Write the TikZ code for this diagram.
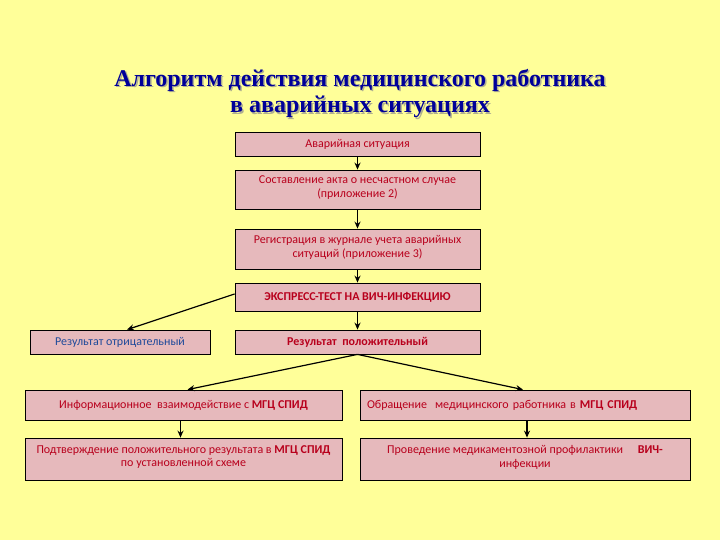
\documentclass[tikz,border=0pt]{standalone}
\usepackage{fontspec}
\setmainfont{Liberation Serif}
\newfontfamily\boxfont{Carlito}
\usetikzlibrary{arrows.meta}
\definecolor{bg}{HTML}{FFFF99}
\definecolor{boxfill}{HTML}{E6B9BC}
\definecolor{txtred}{HTML}{B8001C}
\definecolor{titleblue}{HTML}{000099}
\definecolor{negblue}{HTML}{1F4A9A}
\definecolor{shadowgray}{HTML}{B0B090}
\begin{document}
\begin{tikzpicture}[x=1pt,y=-1pt,
  box/.style={draw=black, line width=0.8pt, fill=boxfill, inner sep=2pt, text=txtred,
    font=\boxfont\fontsize{12}{13.5}\selectfont, align=center},
  arr/.style={-{Stealth[length=7pt,width=6pt]}, line width=1.2pt},
  ttl/.style={font=\bfseries\fontsize{24}{28}\selectfont}]
\fill[bg] (0,0) rectangle (720,540);
\useasboundingbox (0,0) rectangle (720,540);
% title with shadow
\node[ttl, text=shadowgray] (t1s) at (361.5,81.5) {Алгоритм действия медицинского работника};
\node[ttl, text=shadowgray] (t2s) at (361.5,108.5) {в аварийных ситуациях};
\node[ttl, text=titleblue] (t1) at (360,80) {Алгоритм действия медицинского работника};
\node[ttl, text=titleblue] (t2) at (360,107) {в аварийных ситуациях};
% boxes
\node[box, minimum width=245pt, minimum height=24pt] (b1) at (357.5,144) {Аварийная ситуация};
\node[box, minimum width=245pt, minimum height=39pt] (b2) at (357.5,189.5) {Составление акта о несчастном случае\\(приложение 2)\\[-8pt]};
\node[box, minimum width=245pt, minimum height=40pt] (b3) at (357.5,249) {Регистрация в журнале учета аварийных\\ситуаций (приложение 3)\\[-8pt]};
\node[box, minimum width=245pt, minimum height=28pt] (b4) at (357.5,297) {\bfseries ЭКСПРЕСС-ТЕСТ НА ВИЧ-ИНФЕКЦИЮ};
\node[box, minimum width=245pt, minimum height=24pt] (b5) at (357.5,342) {\bfseries Результат \ положительный};
\node[box, text=negblue, minimum width=180pt, minimum height=24pt] (neg) at (120,342) {Результат отрицательный};
\node[box, minimum width=317pt, minimum height=30pt] (l1) at (183.5,405) {Информационное \ взаимодействие с \textbf{МГЦ СПИД}};
\node[box, minimum width=317pt, minimum height=42pt] (l2) at (183.5,459) {Подтверждение положительного результата в \textbf{МГЦ СПИД}\\по установленной схеме\\[-8pt]};
\node[box, minimum height=30pt, text width=316pt, inner xsep=7pt, align=left] (r1) at (525,405) {Обращение \ медицинского работника в \textbf{МГЦ СПИД}};
\node[box, minimum width=330pt, minimum height=42pt] (r2) at (525,459) {Проведение медикаментозной профилактики \quad \textbf{ВИЧ-}\\инфекции\\[-8pt]};
% arrows
\draw[arr] (b1.south) -- (b2.north);
\draw[arr] (b2.south) -- (b3.north);
\draw[arr] (b3.south) -- (b4.north);
\draw[arr] (b4.south) -- (b5.north);
\draw[arr] ([yshift=3pt]b4.west) -- ([xshift=7pt]neg.north);
\draw[arr] (b5.south) -- ([xshift=4pt]l1.north);
\draw[arr] (b5.south) -- ([xshift=-2pt]r1.north);
\draw[arr] ([xshift=-3pt]l1.south) -- ([xshift=-3pt]l2.north);
\draw[arr] ([xshift=2pt]r1.south) -- ([xshift=2pt]r2.north);
\end{tikzpicture}
\end{document}
